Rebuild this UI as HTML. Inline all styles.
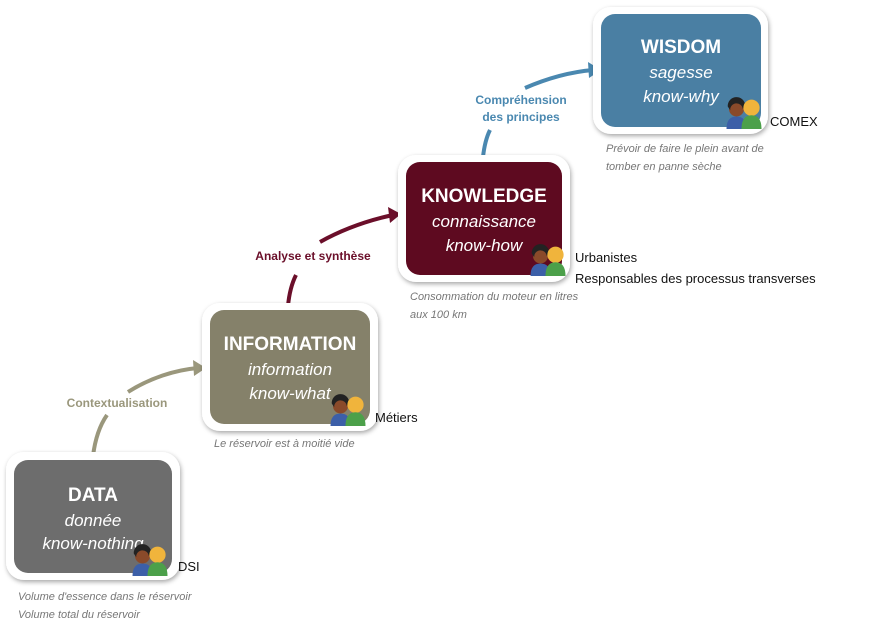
<!DOCTYPE html>
<html><head><meta charset="utf-8"><style>
body{margin:0;background:#fff;width:888px;height:632px;overflow:hidden}
svg text{font-family:"Liberation Sans",sans-serif}
</style></head><body>
<svg width="888" height="632" viewBox="0 0 888 632" xmlns="http://www.w3.org/2000/svg">
<defs>
<filter id="sh" x="-10%" y="-10%" width="120%" height="120%"><feDropShadow dx="1" dy="2" stdDeviation="2.5" flood-color="#000" flood-opacity="0.35"/></filter>
<g id="ppl">
<circle cx="-6" cy="-8" r="6" fill="#8a4a2a"/><path d="M-13,-10 a7,7 0 0 1 14,-1 l-2,3 a5,5 0 0 0 -10,1z" fill="#222"/>
<path d="M-14,8 q0,-10 8,-10 q8,0 8,10z" fill="#3c5fa8"/>
<circle cx="6" cy="-9" r="6.5" fill="#f0b43c"/>
<path d="M-2,8 q0,-11 8,-11 q8,0 8,11z" fill="#4ca04a"/>
</g>
</defs>
<g fill="none" stroke-width="4">
<path d="M93,456 C95,440 100,425 107,415" stroke="#9a977c"/>
<path d="M128,392 C150,378 175,370 198,368" stroke="#9a977c"/>
<path d="M288,306 C289,295 291,285 296,275" stroke="#6b0f2a"/>
<path d="M320,242 C345,228 370,220 393,215" stroke="#6b0f2a"/>
<path d="M483,157 C484,148 486,138 490,130" stroke="#4a88b0"/>
<path d="M525,88 C548,78 570,72 593,70" stroke="#4a88b0"/>
</g>
<polygon points="206,368 193,360 194,376" fill="#9a977c"/>
<polygon points="401,214 388,207 390,223" fill="#6b0f2a"/>
<polygon points="601,70 588,62 589,78" fill="#4a88b0"/>
<text x="117" y="407" font-size="12" font-weight="bold" fill="#9a977c" text-anchor="middle">Contextualisation</text>
<text x="313" y="260" font-size="12" font-weight="bold" fill="#6b0f2a" text-anchor="middle">Analyse et synthèse</text>
<text x="521" y="104" font-size="12" font-weight="bold" fill="#4a88b0" text-anchor="middle">Compréhension</text>
<text x="521" y="121" font-size="12" font-weight="bold" fill="#4a88b0" text-anchor="middle">des principes</text>

<g filter="url(#sh)" fill="#fff">
<rect x="6" y="452" width="174" height="128" rx="18"/>
<rect x="202" y="303" width="176" height="128" rx="18"/>
<rect x="398" y="155" width="172" height="127" rx="18"/>
<rect x="593" y="7" width="175" height="127" rx="18"/>
</g>
<rect x="14" y="460" width="158" height="113" rx="14" fill="#6d6d6d"/>
<rect x="210" y="310" width="160" height="114" rx="14" fill="#85816a"/>
<rect x="406" y="162" width="156" height="113" rx="14" fill="#5e0a20"/>
<rect x="601" y="14" width="160" height="113" rx="14" fill="#4a7fa3"/>

<g fill="#fff" text-anchor="middle">
<text x="93" y="501" font-size="19" font-weight="bold">DATA</text>
<text x="93" y="526" font-size="17" font-style="italic">donnée</text>
<text x="93" y="549" font-size="17" font-style="italic">know-nothing</text>
<text x="290" y="350" font-size="19" font-weight="bold">INFORMATION</text>
<text x="290" y="375" font-size="17" font-style="italic">information</text>
<text x="290" y="399" font-size="17" font-style="italic">know-what</text>
<text x="484" y="202" font-size="19" font-weight="bold">KNOWLEDGE</text>
<text x="484" y="227" font-size="17" font-style="italic">connaissance</text>
<text x="484" y="251" font-size="17" font-style="italic">know-how</text>
<text x="681" y="53" font-size="19" font-weight="bold">WISDOM</text>
<text x="681" y="78" font-size="17" font-style="italic">sagesse</text>
<text x="681" y="102" font-size="17" font-style="italic">know-why</text>
</g>

<use href="#ppl" transform="translate(150,566) scale(1.25)"/>
<use href="#ppl" transform="translate(348,416) scale(1.25)"/>
<use href="#ppl" transform="translate(548,266) scale(1.25)"/>
<use href="#ppl" transform="translate(744,119) scale(1.25)"/>

<g fill="#111" font-size="13">
<text x="178" y="571">DSI</text>
<text x="375" y="422">Métiers</text>
<text x="575" y="262">Urbanistes</text>
<text x="575" y="283">Responsables des processus transverses</text>
<text x="770" y="126">COMEX</text>
</g>
<g fill="#777" font-size="11" font-style="italic">
<text x="18" y="600">Volume d'essence dans le réservoir</text>
<text x="18" y="618">Volume total du réservoir</text>
<text x="214" y="447">Le réservoir est à moitié vide</text>
<text x="410" y="300">Consommation du moteur en litres</text>
<text x="410" y="318">aux 100 km</text>
<text x="606" y="152">Prévoir de faire le plein avant de</text>
<text x="606" y="170">tomber en panne sèche</text>
</g>
</svg>
</body></html>
